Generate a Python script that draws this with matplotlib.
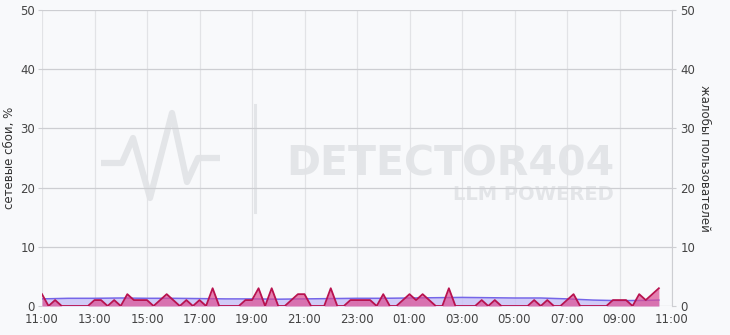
import numpy as np
import matplotlib.pyplot as plt
from matplotlib.lines import Line2D

# Данные: время в часах от 11:00
# жалобы пользователей (шаг 15 минут)
complaints = [2, 0, 1, 0, 0, 0, 0, 0, 1, 1, 0, 1, 0, 2, 1, 1, 1, 0, 1, 2,
              1, 0, 1, 0, 1, 0, 3, 0, 0, 0, 0, 1, 1, 3, 0, 3, 0, 0, 1, 2,
              2, 0, 0, 0, 3, 0, 0, 1, 1, 1, 1, 0, 2, 0, 0, 1, 2, 1, 2, 1,
              0, 0, 3, 0, 0, 0, 0, 1, 0, 1, 0, 0, 0, 0, 0, 1, 0, 1, 0, 0,
              1, 2, 0, 0, 0, 0, 0, 1, 1, 1, 0, 2, 1, 2, 3]
complaints_t = np.arange(len(complaints)) * 0.25

# сетевые сбои, % (шаг 1 час, последняя точка в 10:30)
failures = [1.2, 1.3, 1.3, 1.35, 1.3, 1.3, 1.25, 1.2, 1.2, 1.15, 1.2, 1.25,
            1.3, 1.3, 1.35, 1.4, 1.45, 1.4, 1.35, 1.35, 1.2, 1.0, 0.9, 0.95, 1.0]
failures_t = list(range(24)) + [23.5]

tick_pos = list(range(0, 25, 2))
tick_labels = ["11:00", "13:00", "15:00", "17:00", "19:00", "21:00", "23:00",
               "01:00", "03:00", "05:00", "07:00", "09:00", "11:00"]

bg = '#f8f9fb'
fig = plt.figure(figsize=(7.3, 3.35), dpi=100)
fig.patch.set_facecolor(bg)
ax = fig.add_axes([42/730, 1 - 306/335, 630/730, 296/335])
ax.set_facecolor('none')

# водяной знак
def px(x, y):
    return x / 730, 1 - y / 335

wm = '#e3e5e8'
pulse_x = [101, 122, 133, 150, 172, 187, 198, 220]
pulse_y = [163, 163, 138, 198, 113, 182, 158, 158]
fig.add_artist(Line2D([x / 730 for x in pulse_x], [1 - y / 335 for y in pulse_y],
                      color=wm, lw=4.5, zorder=-5, solid_joinstyle='round',
                      solid_capstyle='butt'))
fig.add_artist(Line2D([255 / 730, 255 / 730], [1 - 105 / 335, 1 - 212 / 335],
                      color=wm, lw=2.2, zorder=-5))
fig.text(*px(614, 176), "DETECTOR404", color=wm, fontsize=29.5, fontweight='heavy',
         ha='right', va='baseline', zorder=-5)
fig.text(*px(614, 200), "LLM POWERED", color=wm, fontsize=14, fontweight='heavy',
         ha='right', va='baseline', zorder=-5)

# сетевые сбои
ax.fill_between(failures_t, failures, color='#c8c0f6', alpha=0.8, lw=0)
ax.plot(failures_t, failures, color='#7566e8', lw=1.1)
ax.set_ylim(0, 50)
ax.set_xlim(0, 24)
ax.set_yticks(range(0, 51, 10))
ax.set_xticks(tick_pos)
ax.set_xticklabels(tick_labels)
ax.grid(axis='x', color='#e2e3e6', lw=0.9)
ax.grid(axis='y', color='#cdced2', lw=0.9)
ax.set_axisbelow(True)
for s in ax.spines.values():
    s.set_visible(False)
ax.tick_params(axis='y', length=3, color='#cdced2', labelsize=8.5, labelcolor='#444', pad=2)
ax.tick_params(axis='x', length=0, labelsize=8.5, labelcolor='#444', pad=5)
ax.set_ylabel('сетевые сбои, %', fontsize=8.5, color='#333', va='center')
ax.yaxis.set_label_coords(-0.051, 0.5)

# жалобы пользователей
ax2 = ax.twinx()
ax2.fill_between(complaints_t, complaints, color='#dc4d92', alpha=0.7, lw=0)
ax2.plot(complaints_t, complaints, color='#b8124f', lw=1.3)
ax2.set_ylim(0, 50)
ax2.set_yticks(range(0, 51, 10))
for s in ax2.spines.values():
    s.set_visible(False)
ax2.spines['right'].set_visible(True)
ax2.spines['right'].set_color('#cdced2')
ax2.tick_params(axis='y', length=3, color='#cdced2', labelsize=8.5, labelcolor='#444', pad=3)
ax2.set_ylabel('жалобы пользователей', fontsize=8.5, color='#333', rotation=-90,
               va='center')
ax2.yaxis.set_label_coords(1.052, 0.5)

fig.savefig('out.png', dpi=100, facecolor=bg)
